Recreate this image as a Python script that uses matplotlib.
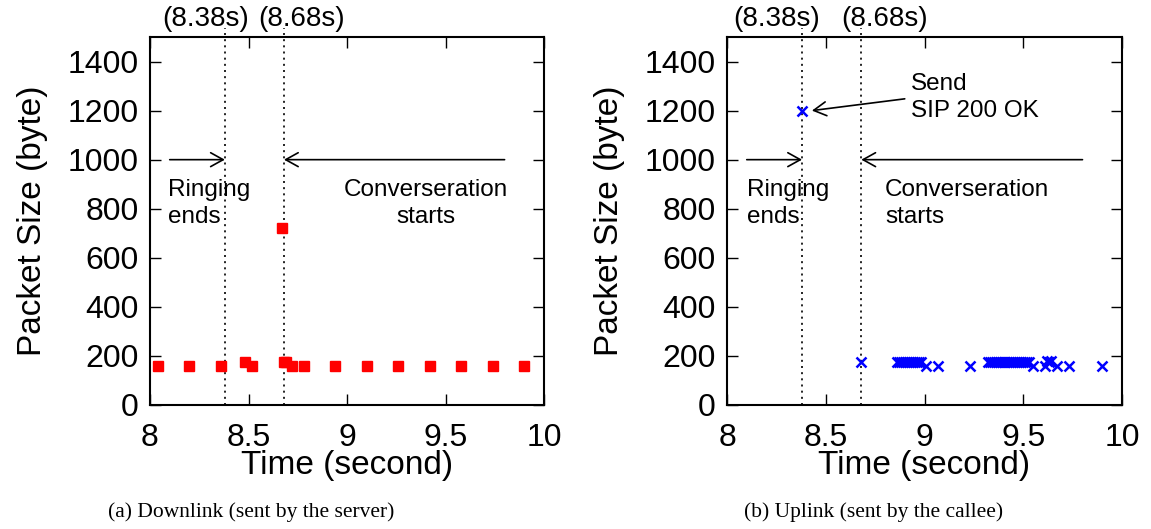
import matplotlib
matplotlib.use("Agg")
import matplotlib.pyplot as plt

plt.rcParams["font.family"] = ["Liberation Sans", "DejaVu Sans"]

# packet timings (s) and sizes (byte)
down_t = [8.04, 8.20, 8.36, 8.48, 8.52, 8.67, 8.68, 8.69, 8.72, 8.78,
          8.94, 9.10, 9.26, 9.42, 9.58, 9.74, 9.90]
down_size = [160, 160, 160, 175, 160, 720, 175, 175, 160, 160,
             160, 160, 160, 160, 160, 160, 160]

up_t = [8.38, 8.68,
        8.86, 8.87, 8.88, 8.89, 8.90, 8.91, 8.92, 8.93, 8.94, 8.95, 8.96, 8.97, 8.98,
        9.01, 9.07, 9.23,
        9.32, 9.33, 9.34, 9.35, 9.36, 9.37, 9.38, 9.39, 9.40, 9.41, 9.42, 9.43,
        9.44, 9.45, 9.46, 9.47, 9.48, 9.49, 9.50, 9.51, 9.52, 9.53,
        9.55, 9.61, 9.62, 9.63, 9.64, 9.67, 9.73, 9.90]
up_size = [1200, 175,
           175, 175, 175, 175, 175, 175, 175, 175, 175, 175, 175, 175, 175,
           160, 160, 160,
           175, 175, 175, 175, 175, 175, 175, 175, 175, 175, 175, 175,
           175, 175, 175, 175, 175, 175, 175, 175, 175, 175,
           160, 160, 178, 175, 178, 160, 160, 160]

ring_end = 8.38
conv_start = 8.68
arrow_y = 1000

x_ticks = [8, 8.5, 9, 9.5, 10]
x_tick_labels = ["8", "8.5", "9", "9.5", "10"]
y_ticks = [0, 200, 400, 600, 800, 1000, 1200, 1400]

W, H = 1151, 529
fig = plt.figure(figsize=(W / 100, H / 100), dpi=100)
ax_a = fig.add_axes([150 / W, 124 / H, 394 / W, 368 / H])
ax_b = fig.add_axes([727 / W, 124 / H, 395 / W, 368 / H])

arrow_kw = dict(arrowstyle="->,head_length=0.9,head_width=0.5", color="black",
                lw=1.2, shrinkA=0, shrinkB=0)
note_fs = 17.5


def style_axes(ax):
    ax.set_xlim(8, 10)
    ax.set_ylim(0, 1500)
    ax.set_xticks(x_ticks)
    ax.set_xticklabels(x_tick_labels)
    ax.set_yticks(y_ticks)
    ax.tick_params(direction="in", length=8, width=1, top=True, right=True,
                   labelsize=23)
    ax.tick_params(axis="x", pad=13)
    ax.tick_params(axis="y", pad=8)
    for s in ax.spines.values():
        s.set_linewidth(1.5)
    ax.set_xlabel("Time (second)", fontsize=24, labelpad=-2)
    ax.set_ylabel("Packet Size (byte)", fontsize=24, labelpad=14)
    # marker lines for ringing end / conversation start, poking above the frame
    for t in (ring_end, conv_start):
        ax.plot([t, t], [0, 1535], color="black", lw=1.2, ls=(0, (1.2, 2.5)),
                clip_on=False, zorder=1)
    ax.annotate("", xy=(ring_end, arrow_y), xytext=(8.10, arrow_y), arrowprops=arrow_kw)
    ax.annotate("", xy=(conv_start, arrow_y), xytext=(9.80, arrow_y), arrowprops=arrow_kw)


style_axes(ax_a)
ax_a.plot(down_t, down_size, ls="none", marker="s", ms=7.2, color="#ff0000",
          mec="#ff0000", zorder=3)
ax_a.text(8.28, 1572, "(8.38s)", fontsize=20, ha="center", va="center")
ax_a.text(8.77, 1572, "(8.68s)", fontsize=20, ha="center", va="center")
ax_a.text(8.09, 820, "Ringing\nends", fontsize=note_fs, ha="left", va="center",
          linespacing=1.3)
ax_a.text(9.40, 820, "Converseration\nstarts", fontsize=note_fs, ha="center",
          va="center", linespacing=1.3)

style_axes(ax_b)
ax_b.plot(up_t, up_size, ls="none", marker="x", ms=7.5, mew=1.8, color="#0000ff",
          zorder=3)
ax_b.text(8.25, 1572, "(8.38s)", fontsize=20, ha="center", va="center")
ax_b.text(8.80, 1572, "(8.68s)", fontsize=20, ha="center", va="center")
ax_b.text(8.10, 820, "Ringing\nends", fontsize=note_fs, ha="left", va="center",
          linespacing=1.3)
ax_b.text(8.80, 820, "Converseration\nstarts", fontsize=note_fs, ha="left",
          va="center", linespacing=1.3)
ax_b.annotate("", xy=(8.43, 1200), xytext=(8.90, 1248), arrowprops=arrow_kw)
ax_b.text(8.93, 1255, "Send\nSIP 200 OK", fontsize=note_fs, ha="left", va="center",
          linespacing=1.3)

fig.text(251 / W, 1 - 512 / H, "(a) Downlink (sent by the server)",
         family="Liberation Serif", fontsize=15.5, ha="center", va="center")
fig.text(874 / W, 1 - 512 / H, "(b) Uplink (sent by the callee)",
         family="Liberation Serif", fontsize=15.5, ha="center", va="center")

fig.savefig("out.png", dpi=100)
